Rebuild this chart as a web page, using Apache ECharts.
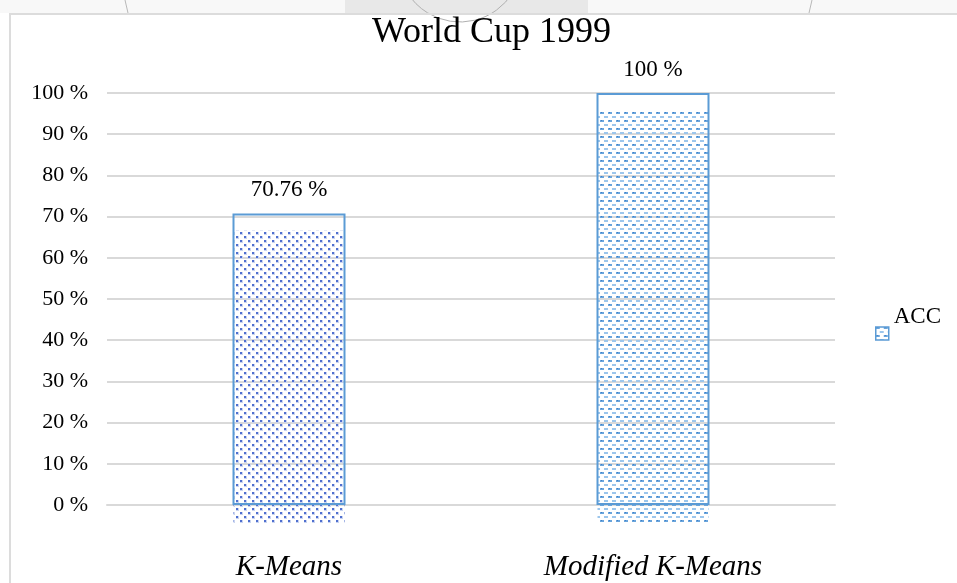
<!DOCTYPE html>
<html>
<head>
<meta charset="utf-8">
<title>World Cup 1999</title>
<script src="https://cdn.jsdelivr.net/npm/echarts@6/dist/echarts.min.js"></script>
<style>
  html, body { margin: 0; padding: 0; background: #fff; }
  #chart { width: 957px; height: 583px; }
</style>
</head>
<body>
<div id="chart"></div>
<script>
// 数据
var categories = ['K-Means', 'Modified K-Means'];
var accValues = [70.76, 100];
var labelTexts = ['70.76 %', '100 %'];
var yTicks = [0, 100, 10]; // min, max, interval

var serif = '"Liberation Serif", "DejaVu Serif", serif';
var blue = '#5b9bd5';

// 填充图案（小画布平铺）
function makeTile(type) {
    var c = document.createElement('canvas');
    c.width = 8;
    c.height = 8;
    var ctx = c.getContext('2d');
    if (type == 'dots') {
        ctx.fillStyle = '#c9d4f0';
        ctx.fillRect(0, 0, 3, 3);
        ctx.fillRect(4, 4, 3, 3);
        ctx.fillStyle = '#4f6fcf';
        ctx.fillRect(0, 0, 2, 2);
        ctx.fillRect(4, 4, 2, 2);
    } else {
        ctx.fillStyle = '#6aa5dc';
        ctx.fillRect(0, 0, 4, 2);
        ctx.fillStyle = '#9cc6ec';
        ctx.fillRect(4, 4, 4, 2);
        ctx.fillStyle = '#3f7fc8';
        ctx.fillRect(1, 0, 1, 1);
    }
    return c;
}
var patterns = [makeTile('dots'), makeTile('dashes')];

var chart = echarts.init(document.getElementById('chart'));

var option = {
    backgroundColor: '#fff',
    animation: false,
    title: {
        text: 'World Cup 1999',
        left: 367,
        top: 10,
        textStyle: { fontFamily: serif, fontSize: 36, fontWeight: 'normal', color: '#000' }
    },
    legend: {
        data: [{
            name: 'ACC',
            itemStyle: { color: { image: patterns[1], repeat: 'repeat' }, borderColor: blue, borderWidth: 1.5 }
        }],
        left: 870,
        top: 300,
        orient: 'vertical',
        icon: 'rect',
        itemWidth: 13,
        itemHeight: 13,
        formatter: '{a|{name}}',
        textStyle: {
            fontFamily: serif, fontSize: 23, color: '#000',
            rich: { a: { fontFamily: serif, fontSize: 23, color: '#000', padding: [0, 0, 34, 0] } }
        }
    },
    grid: { left: 107, right: 122, top: 93, bottom: 78 },
    xAxis: {
        type: 'category',
        data: categories,
        axisLine: { lineStyle: { color: '#d9d9d9', width: 2 } },
        axisTick: { show: false },
        axisLabel: { fontFamily: serif, fontSize: 29, fontStyle: 'italic', color: '#000', margin: 48 }
    },
    yAxis: {
        type: 'value',
        min: yTicks[0],
        max: yTicks[1],
        interval: yTicks[2],
        axisLine: { show: false },
        axisTick: { show: false },
        splitLine: { lineStyle: { color: '#d9d9d9', width: 2 } },
        axisLabel: { formatter: '{value} %', fontFamily: serif, fontSize: 22, color: '#000', margin: 19 }
    },
    series: [
        {
            // 图案填充（原图中相对边框向下偏移）
            name: 'fill',
            type: 'custom',
            silent: true,
            z: 1,
            data: accValues.map(function (v, i) { return [i, v]; }),
            renderItem: function (params, api) {
                var top = api.coord([api.value(0), api.value(1)]);
                var base = api.coord([api.value(0), 0]);
                var w = 111;
                return {
                    type: 'rect',
                    shape: { x: top[0] - w / 2, y: top[1] + 17, width: w, height: base[1] - top[1] + 1 },
                    style: { fill: { image: patterns[params.dataIndex], repeat: 'repeat' } }
                };
            }
        },
        {
            name: 'ACC',
            type: 'bar',
            z: 2,
            barWidth: 113,
            data: accValues,
            itemStyle: { color: 'rgba(0,0,0,0)', borderColor: blue, borderWidth: 2 },
            label: {
                show: true,
                position: 'top',
                distance: 12,
                fontFamily: serif,
                fontSize: 23,
                color: '#000',
                formatter: function (p) { return labelTexts[p.dataIndex]; }
            }
        }
    ],
    graphic: [
        // 顶部扫描残留
        { type: 'rect', silent: true, shape: { x: 0, y: 0, width: 957, height: 13 }, style: { fill: '#f8f8f8' } },
        { type: 'rect', silent: true, shape: { x: 345, y: 0, width: 243, height: 13 }, style: { fill: '#e8e8e8' } },
        { type: 'arc', silent: true, shape: { cx: 460, cy: -40, r: 62, startAngle: 0.55, endAngle: 2.6 }, style: { stroke: '#b0b0b0', lineWidth: 1, fill: null } },
        { type: 'line', silent: true, shape: { x1: 125, y1: 0, x2: 128, y2: 13 }, style: { stroke: '#b8b8b8', lineWidth: 1 } },
        { type: 'line', silent: true, shape: { x1: 812, y1: 0, x2: 809, y2: 13 }, style: { stroke: '#b8b8b8', lineWidth: 1 } },
        // 外框
        { type: 'rect', silent: true, z: 100, shape: { x: 10, y: 14, width: 1000, height: 600 }, style: { fill: null, stroke: '#dcdcdc', lineWidth: 2 } }
    ]
};
chart.setOption(option);
</script>
</body>
</html>
